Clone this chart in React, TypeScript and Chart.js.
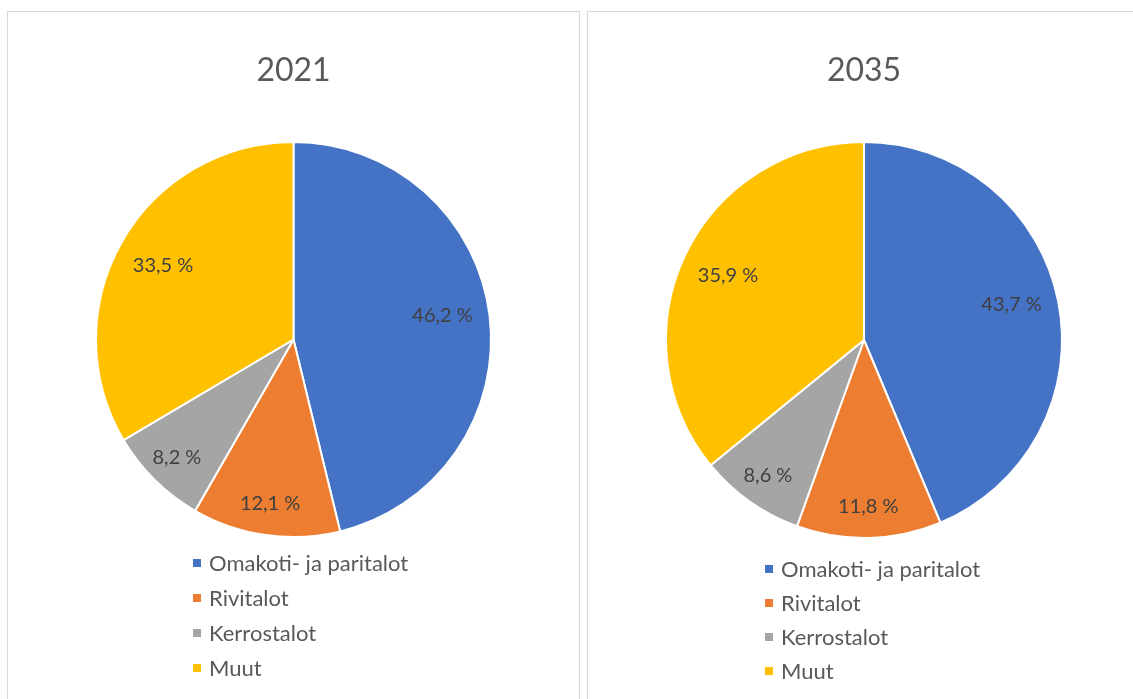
import React, { useEffect, useRef } from "react";
import { Chart, registerables } from "chart.js";

Chart.register(...registerables);

const categories = ["Omakoti- ja paritalot", "Rivitalot", "Kerrostalot", "Muut"];
const values2021 = [46.2, 12.1, 8.2, 33.5];
const values2035 = [43.7, 11.8, 8.6, 35.9];
const sliceColors = ["#4472C4", "#ED7D31", "#A5A5A5", "#FFC000"];

const FONT = "Lato, 'Open Sans', sans-serif";

type Layout = {
  left: number;
  top: number;
  width: number;
  height: number;
  pad: { left: number; right: number; top: number; bottom: number };
  titleY: number;
  legendX: number;
  legendY: number;
  legendStep: number;
};

const layouts: Layout[] = [
  {
    left: 8,
    top: 12,
    width: 571,
    height: 700,
    pad: { left: 86.5, right: 86.5, top: 129, bottom: 174 },
    titleY: 59,
    legendX: 185,
    legendY: 551,
    legendStep: 35,
  },
  {
    left: 588,
    top: 12,
    width: 560,
    height: 700,
    pad: { left: 77, right: 85, top: 129, bottom: 173 },
    titleY: 59,
    legendX: 177,
    legendY: 557,
    legendStep: 34,
  },
];

function fmt(v: number) {
  return v.toFixed(1).replace(".", ",") + " %";
}

function PiePanel({ title, values, layout }: { title: string; values: number[]; layout: Layout }) {
  const ref = useRef<HTMLCanvasElement | null>(null);

  useEffect(() => {
    if (!ref.current) return;
    const overlay = {
      id: "overlay",
      afterDraw(chart: any) {
        const ctx = chart.ctx as CanvasRenderingContext2D;
        const meta = chart.getDatasetMeta(0);
        const arcs = meta.data;
        ctx.save();
        // title
        const cx = arcs[0].x;
        ctx.fillStyle = "#595959";
        ctx.font = `32px ${FONT}`;
        ctx.textAlign = "center";
        ctx.textBaseline = "middle";
        ctx.fillText(title, cx, layout.titleY);
        // data labels
        ctx.fillStyle = "#404040";
        ctx.font = `20px ${FONT}`;
        arcs.forEach((arc: any, i: number) => {
          const p = arc.getProps(["x", "y", "startAngle", "endAngle", "outerRadius"], true);
          const mid = (p.startAngle + p.endAngle) / 2;
          const v = values[i];
          const f = v > 20 ? 0.76 : 0.84;
          const x = p.x + Math.cos(mid) * p.outerRadius * f;
          const y = p.y + Math.sin(mid) * p.outerRadius * f - (v > 40 ? 6 : 0);
          ctx.fillText(fmt(v), x, y);
        });
        // legend
        ctx.textAlign = "left";
        ctx.font = `22px ${FONT}`;
        categories.forEach((c, i) => {
          const y = layout.legendY + i * layout.legendStep;
          ctx.fillStyle = sliceColors[i];
          ctx.fillRect(layout.legendX, y - 4, 8, 8);
          ctx.fillStyle = "#595959";
          ctx.fillText(c, layout.legendX + 16, y + 1);
        });
        ctx.restore();
      },
    };

    const chart = new Chart(ref.current, {
      type: "pie",
      data: {
        labels: categories,
        datasets: [
          {
            data: values,
            backgroundColor: sliceColors,
            borderColor: "#ffffff",
            borderWidth: 2,
          },
        ],
      },
      options: {
        animation: false,
        responsive: false,
        maintainAspectRatio: false,
        layout: { padding: layout.pad },
        plugins: {
          legend: { display: false },
          title: { display: false },
          tooltip: { enabled: false },
        },
      },
      plugins: [overlay],
    });
    return () => chart.destroy();
  }, [title, values, layout]);

  return (
    <div
      style={{
        position: "absolute",
        left: layout.left - 1,
        top: layout.top - 1,
        width: layout.width,
        height: layout.height,
        border: "1.5px solid #d9d9d9",
        background: "#fff",
      }}
    >
      <canvas ref={ref} width={layout.width} height={layout.height} style={{ display: "block" }} />
    </div>
  );
}

export default function App() {
  return (
    <div style={{ position: "absolute", left: 0, top: 0, width: 1133, height: 699, overflow: "hidden", background: "#fff" }}>
      <PiePanel title="2021" values={values2021} layout={layouts[0]} />
      <PiePanel title="2035" values={values2035} layout={layouts[1]} />
    </div>
  );
}
